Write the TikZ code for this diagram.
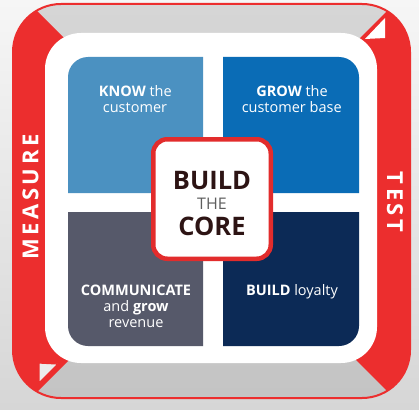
\documentclass[tikz,border=0pt]{standalone}
\usepackage{fontspec}
\setmainfont{Open Sans}
\definecolor{ringred}{RGB}{236,46,46}
\definecolor{corered}{RGB}{226,44,44}
\definecolor{bandtop}{RGB}{214,214,214}
\definecolor{bandbot}{RGB}{196,196,196}
\definecolor{bgtop}{RGB}{246,246,246}
\definecolor{bgbot}{RGB}{214,214,214}
\definecolor{trilight}{RGB}{236,236,236}
\definecolor{qtl}{RGB}{75,145,193}
\definecolor{qtr}{RGB}{10,108,182}
\definecolor{qbl}{RGB}{86,89,106}
\definecolor{qbr}{RGB}{12,42,86}
\definecolor{coredark}{RGB}{45,20,20}
\definecolor{coregray}{RGB}{94,94,94}
\tikzset{
  qtext/.style={anchor=base,text=white,inner sep=0pt,font=\fontsize{14.5}{16.5}\selectfont},
  bandtext/.style={text=white,inner sep=0pt,font=\bfseries\fontsize{22}{22}\selectfont},
  corebig/.style={anchor=base,text=coredark,inner sep=0pt,font=\bfseries\fontsize{25.5}{26}\selectfont},
  coresmall/.style={anchor=base,text=coregray,inner sep=0pt,font=\fontsize{16}{16}\selectfont},
}
\begin{document}
\begin{tikzpicture}[x=1pt,y=-1pt]
\useasboundingbox (0,0) rectangle (419,409);
\shade[top color=bgtop,bottom color=bgbot] (0,0) rectangle (419,409);
% ring
\shade[top color=bandtop,bottom color=bandbot,rounded corners=48pt] (13,4) rectangle (410,398);
\begin{scope}
  \clip[rounded corners=48pt] (13,4) rectangle (410,398);
  \fill[ringred] (-10,-10) -- (16,-10) -- (200,174) -- (200,229) -- (-10,439) -- cycle;
  \fill[ringred] (408,-10) -- (430,-10) -- (430,434) -- (220,224) -- (220,178) -- cycle;
\end{scope}
\draw[ringred,line width=2pt,rounded corners=48pt] (13,4) rectangle (410,398);
\fill[white,rounded corners=36pt] (45,33) rectangle (377,363);
% arrow triangles
\fill[white] (385,18) -- (365,39) -- (385,38) -- cycle;
\filldraw[fill=trilight,draw=ringred,line width=1.2pt] (39,363) -- (39,383) -- (58,364) -- cycle;
% quadrants
\fill[qtl] (203,193) -- (68,193) -- (68,77) .. controls (68,66) and (77,57) .. (88,57) -- (203,57) -- cycle;
\fill[qtr] (223,193) -- (223,57) -- (339,57) .. controls (350,57) and (359,66) .. (359,77) -- (359,193) -- cycle;
\fill[qbl] (68,212) -- (203,212) -- (203,346) -- (88,346) .. controls (77,346) and (68,337) .. (68,326) -- cycle;
\fill[qbr] (223,212) -- (359,212) -- (359,326) .. controls (359,337) and (350,346) .. (339,346) -- (223,346) -- cycle;
% center box
\node[draw=corered,line width=4.5pt,fill=white,rounded corners=14pt,minimum width=117.5pt,minimum height=119.5pt,inner sep=0pt] (core) at (212,199) {};
\node[corebig] (build) at (212,189) {BUILD};
\node[coresmall] (the) at (212,209.5) {THE};
\node[corebig] (coretxt) at (212,235) {CORE};
% quadrant texts
\node[qtext] (know1) at (135.3,96.7) {\textbf{KNOW} the};
\node[qtext] (know2) at (135,112.7) {customer};
\node[qtext] (grow1) at (292,96.7) {\textbf{GROW} the};
\node[qtext] (grow2) at (291.7,112.7) {customer base};
\node[qtext] (comm1) at (136,295) {\textbf{COMMUNICATE}};
\node[qtext] (comm2) at (136,311.3) {and \textbf{grow}};
\node[qtext] (comm3) at (136,327.5) {revenue};
\node[qtext] (loyal) at (292,295) {\textbf{BUILD} loyalty};
% band labels
\node[bandtext,rotate=90] (measure) at (30.5,197) {M\kern3.5pt E\kern3.5pt A\kern3.5pt S\kern3.5pt U\kern3.5pt R\kern3.5pt E};
\node[bandtext,rotate=-90] (test) at (395,202) {T\kern3.5pt E\kern3.5pt S\kern3.5pt T};
\end{tikzpicture}
\end{document}
